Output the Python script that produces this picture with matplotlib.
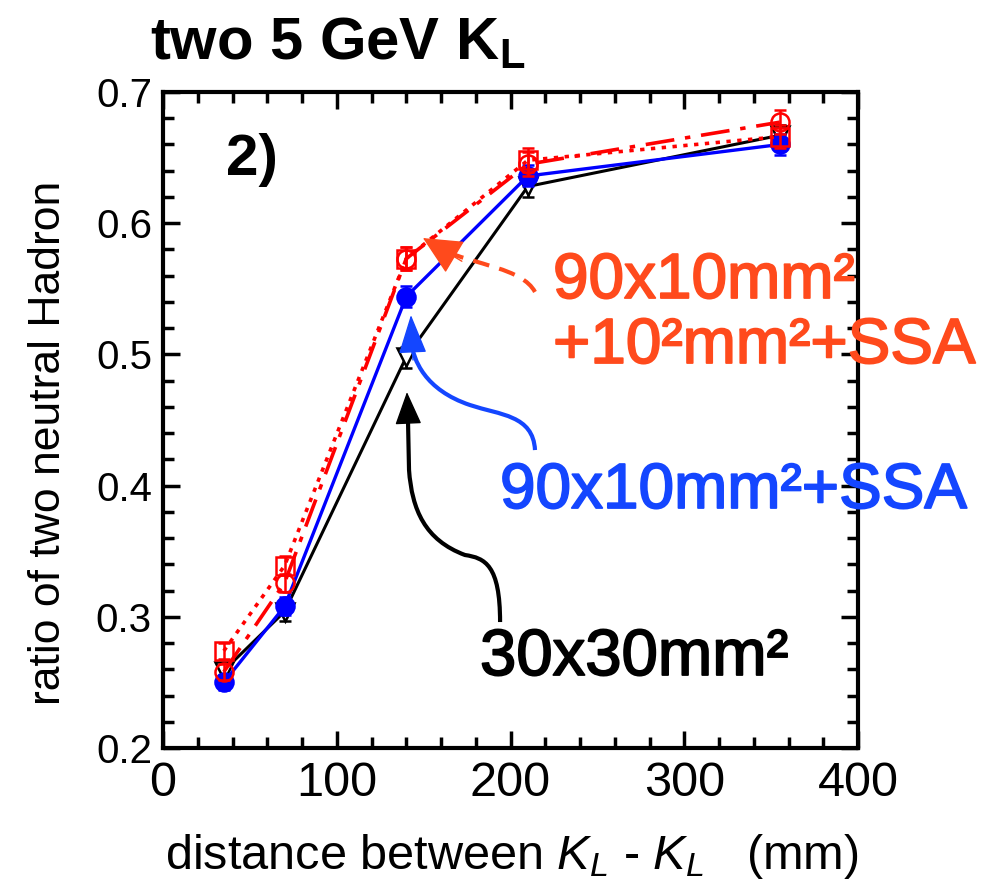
import matplotlib
matplotlib.use("Agg")
import matplotlib.pyplot as plt
import matplotlib.patheffects as pe
from matplotlib.patches import PathPatch
from matplotlib.path import Path
from matplotlib.ticker import MultipleLocator, FormatStrFormatter

plt.rcParams["font.family"] = ["Liberation Sans", "DejaVu Sans"]
plt.rcParams["mathtext.fontset"] = "custom"
plt.rcParams["mathtext.rm"] = "Liberation Sans"
plt.rcParams["mathtext.it"] = "Liberation Sans:italic"
plt.rcParams["mathtext.bf"] = "Liberation Sans:bold"

# distance between the two K_L (mm)
distance = [35, 70, 140, 210, 355]

# 30x30 mm^2 cells (black, open triangles)
ratio_30x30 = [0.259, 0.304, 0.498, 0.628, 0.667]
err_30x30 = [0.006, 0.007, 0.008, 0.008, 0.008]

# 90x10 mm^2 + SSA (blue, filled circles)
ratio_90x10_ssa = [0.250, 0.308, 0.544, 0.636, 0.660]
err_90x10_ssa = [0.006, 0.007, 0.008, 0.008, 0.008]

# 90x10 mm^2 + 10^2 mm^2 + SSA (red, open circles, dash-dot)
ratio_mixed_ssa = [0.258, 0.326, 0.573, 0.645, 0.677]
err_mixed_ssa = [0.006, 0.007, 0.009, 0.009, 0.009]

# 90x10 mm^2 + 10^2 mm^2 (red, open squares, dotted)
ratio_mixed = [0.274, 0.339, 0.573, 0.648, 0.666]
err_mixed = [0.006, 0.007, 0.009, 0.009, 0.009]

fig = plt.figure(figsize=(9.93, 8.84), dpi=100)
ax = fig.add_axes([163 / 993, 1 - 748 / 884, 695 / 993, 656 / 884])

common = dict(capsize=4, capthick=2, elinewidth=1.8, markersize=13, markeredgewidth=1.8)
ax.errorbar(distance, ratio_30x30, yerr=err_30x30, color="black", marker="v",
            markerfacecolor="white", linewidth=2.2, zorder=2, **common)
ax.errorbar(distance, ratio_90x10_ssa, yerr=err_90x10_ssa, color="#0000ff", marker="o",
            linewidth=2.4, zorder=3, **common)
ax.errorbar(distance, ratio_mixed_ssa, yerr=err_mixed_ssa, color="#ff0000", marker="o",
            markerfacecolor="none", linewidth=2.6, linestyle=(0, (8, 3, 1.5, 3)), zorder=4, **common)
ax.errorbar(distance, ratio_mixed, yerr=err_mixed, color="#ff0000", marker="s",
            markerfacecolor="none", linewidth=2.6, linestyle=(0, (1.2, 1.8)), zorder=4, **common)

ax.set_xlim(0, 400)
ax.set_ylim(0.2, 0.7)
ax.xaxis.set_major_locator(MultipleLocator(100))
ax.xaxis.set_minor_locator(MultipleLocator(20))
ax.yaxis.set_major_locator(MultipleLocator(0.1))
ax.yaxis.set_minor_locator(MultipleLocator(0.02))
ax.yaxis.set_major_formatter(FormatStrFormatter("%.1f"))
ax.tick_params(which="both", direction="in", top=True, right=True, width=2.5)
ax.tick_params(which="major", length=12)
ax.tick_params(which="minor", length=8)
ax.tick_params(axis="x", labelsize=35, pad=9)
ax.tick_params(axis="y", labelsize=29, pad=8)
for sp in ax.spines.values():
    sp.set_linewidth(3)

ax.set_xlabel(r"distance between $K_L$ - $K_L$   (mm)", fontsize=35)
ax.xaxis.set_label_coords(0.502, -0.128)
ax.set_ylabel("ratio of two neutral Hadron", fontsize=32)
ax.yaxis.set_label_coords(-0.135, 0.465)

fig.text(150 / 993, 1 - 60 / 884, r"$\mathbf{two\ 5\ GeV\ K_L}$", fontsize=43, ha="left", va="baseline")
ax.text(51, 0.648, "2)", fontsize=42, fontweight="bold", ha="center", va="center")

orange = "#ff4a1c"
blue = "#1446ff"
thick = lambda c: [pe.withStroke(linewidth=1.3, foreground=c)]
fig.text(553 / 993, 1 - 298 / 884, "90x10mm²", color=orange, fontsize=46, ha="left",
         va="baseline", path_effects=thick(orange))
fig.text(553 / 993, 1 - 363 / 884, "+10²mm²+SSA", color=orange, fontsize=46, ha="left",
         va="baseline", path_effects=thick(orange))
fig.text(500 / 993, 1 - 508 / 884, "90x10mm²+SSA", color=blue, fontsize=46, ha="left",
         va="baseline", path_effects=thick(blue))
fig.text(480 / 993, 1 - 675 / 884, "30x30mm²", color="black", fontsize=47, ha="left",
         va="baseline", path_effects=thick("black"))

# curved pointer lines (data coordinates)
C4 = Path.CURVE4
orange_path = Path([(214.1, 0.5476), (206.6, 0.5659), (180.0, 0.5680), (160.0, 0.5800)],
                   [Path.MOVETO, C4, C4, C4])
blue_path = Path([(214.1, 0.4271), (213.0, 0.4538), (194.0, 0.4538), (176.7, 0.4614),
                  (150.8, 0.4729), (143.9, 0.4957), (142.9, 0.5100)],
                 [Path.MOVETO, C4, C4, C4, C4, C4, C4])
black_path = Path([(194.0, 0.2960), (194.0, 0.3395), (185.3, 0.3448), (173.8, 0.3471),
                   (150.8, 0.3585), (143.3, 0.3814), (141.6, 0.4119), (141.0, 0.4500)],
                  [Path.MOVETO, C4, C4, C4, C4, C4, C4, Path.LINETO])

ax.add_patch(PathPatch(orange_path, facecolor="none", edgecolor=orange, linewidth=3,
                       linestyle=(0, (4, 2.5)), zorder=5, capstyle="butt"))
ax.add_patch(PathPatch(blue_path, facecolor="none", edgecolor=blue, linewidth=3, zorder=5))
ax.add_patch(PathPatch(black_path, facecolor="none", edgecolor="black", linewidth=3, zorder=5))

# arrow heads
heads = [
    ((149.6, 0.5887), (172.0, 0.5710), orange, 25, 12),
    ((142.7, 0.5300), (143.9, 0.4957), blue, 25, 9),
    ((140.4, 0.4713), (141.6, 0.4348), "black", 21, 8.5),
]
for tip, tail, col, hl, hw in heads:
    ax.annotate("", xy=tip, xytext=tail,
                arrowprops=dict(arrowstyle=f"-|>,head_length={hl},head_width={hw}",
                                mutation_scale=1, color=col, linewidth=1,
                                shrinkA=0, shrinkB=0), zorder=6)

fig.savefig("out.png", dpi=100)
